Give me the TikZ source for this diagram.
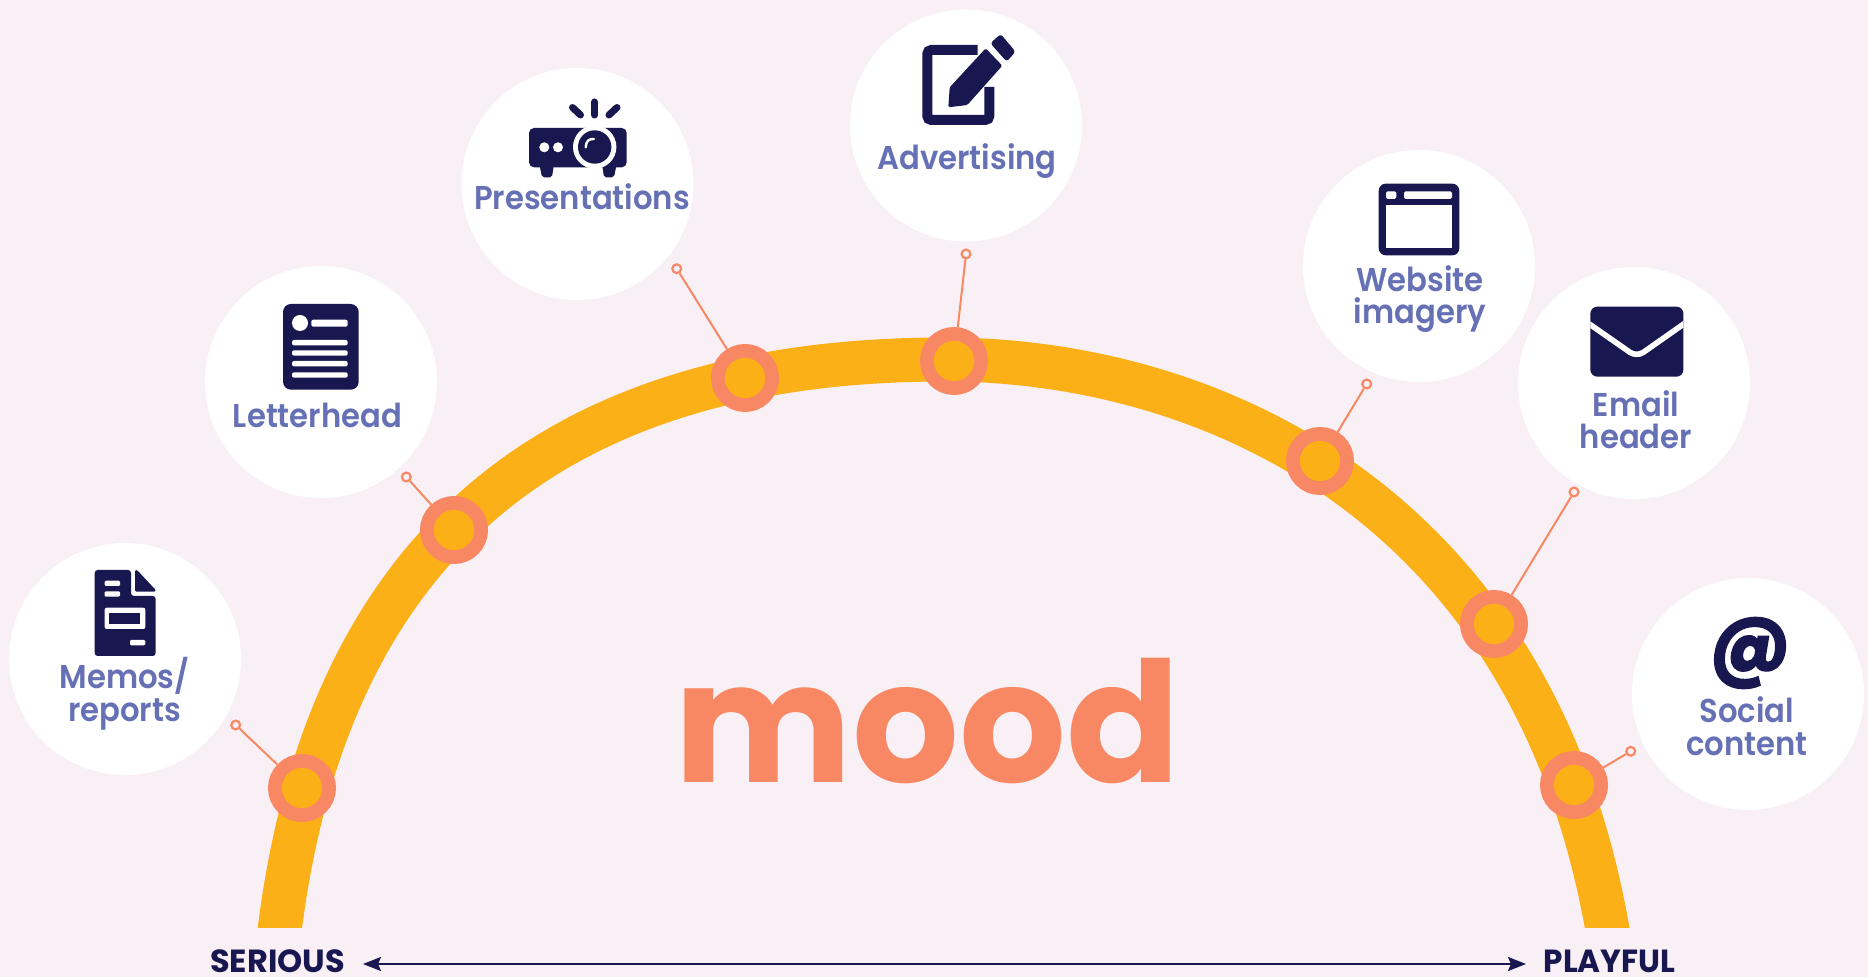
\documentclass[tikz,border=0pt]{standalone}
\usepackage{fontspec}
\usetikzlibrary{arrows.meta}
\newfontfamily\moodfont{Poppins Bold}
\newfontfamily\labfont[FakeStretch=0.93]{Poppins SemiBold}
\newfontfamily\endfont{Poppins Bold}
\newfontfamily\playfont[FakeStretch=0.97]{Poppins Bold}
\newfontfamily\atfont[FakeBold=1.5,FakeStretch=0.95]{Poppins Bold}
\definecolor{bgc}{HTML}{F9F0F5}
\definecolor{arcc}{HTML}{FBB018}
\definecolor{coral}{HTML}{F88863}
\definecolor{navy}{HTML}{191750}
\definecolor{labc}{HTML}{6670B5}
\tikzset{
  bubble/.style={circle,fill=white,minimum size=116pt,inner sep=0pt},
  ring/.style={circle,draw=coral,line width=6.85pt,fill=arcc,minimum size=27.15pt,inner sep=0pt},
  tipdot/.style={circle,draw=coral,line width=1.1pt,fill=bgc,minimum size=4.4pt,inner sep=0pt},
  lolly/.style={draw=coral,line width=1pt},
  lab/.style={font=\labfont\fontsize{16.5}{16.2}\selectfont,text=labc,align=center,inner sep=0pt,anchor=base},
  endlab/.style={font=\endfont\fontsize{16}{16}\selectfont,text=navy,inner sep=0pt,anchor=base},
  ico/.style={fill=navy,draw=none},
  wht/.style={fill=white,draw=none},
}
\begin{document}
\begin{tikzpicture}[x=.5pt,y=-.5pt]
\useasboundingbox (0,0) rectangle (1868,977);
\fill[bgc] (0,0) rectangle (1868,977);
% bubbles
\node[bubble] (b1) at (125,659) {};
\node[bubble] (b2) at (321,382) {};
\node[bubble] (b3) at (577.5,184) {};
\node[bubble] (b4) at (966,125.5) {};
\node[bubble] (b5) at (1419,266) {};
\node[bubble] (b6) at (1634,383) {};
\node[bubble] (b7) at (1748,694) {};
% arc
\begin{scope}
\clip (200,300) rectangle (1700,927);
\draw[arcc,line width=22pt] (276,960) -- (280,927) .. controls (340,457) and (660,359.5) .. (945,359.5) .. controls (1200,359.5) and (1530,495) .. (1607,927) -- (1613,960);
\end{scope}
% rings
\node[ring] (r1) at (302,788) {};
\node[ring] (r2) at (454,530) {};
\node[ring] (r3) at (745,378) {};
\node[ring] (r4) at (954,361) {};
\node[ring] (r5) at (1320,461) {};
\node[ring] (r6) at (1494,624) {};
\node[ring] (r7) at (1574,785) {};
\node[tipdot] (d1) at (235.7,725) {};
\node[tipdot] (d2) at (406.3,477) {};
\node[tipdot] (d3) at (676.7,268.7) {};
\node[tipdot] (d4) at (966,254) {};
\node[tipdot] (d5) at (1366.7,384) {};
\node[tipdot] (d6) at (1574,492) {};
\node[tipdot] (d7) at (1630.7,751.3) {};
\foreach \i in {1,...,7} \draw[lolly] (r\i) -- (d\i);
% mood
\node[font=\moodfont\fontsize{84}{84}\selectfont,text=coral,inner sep=0pt,anchor=base] (mood) at (927.5,783) {mood};
% labels
\node[lab] (t1) at (124.5,721) {Memos/\\reports};
\node[lab] (t2) at (317.5,427.5) {Letterhead};
\node[lab] (t3) at (582,210) {Presentations};
\node[lab] (t4) at (967,170) {Advertising};
\node[lab] (t5) at (1420,324) {Website\\imagery};
\node[lab] (t6) at (1636,449) {Email\\header};
\node[lab] (t7) at (1746.7,755) {Social\\content};
% bottom axis
\node[endlab] (serious) at (277.5,972) {SERIOUS};
\node[endlab,font=\playfont\fontsize{16}{16}\selectfont] (playful) at (1609.5,972) {PLAYFUL};
\coordinate (al) at (363,964);
\coordinate (ar) at (1526,964);
\draw[navy,line width=1.1pt,{Stealth[length=9pt,width=7pt,inset=1.5pt]}-{Stealth[length=9pt,width=7pt,inset=1.5pt]}] (al) -- (ar);
% memo icon
\fill[ico,rounded corners=1.5pt] (94.7,570) -- (131,570) -- (131,596) -- (155.7,596) -- (155.7,656) -- (94.7,656) -- cycle;
\fill[ico,rounded corners=.7pt] (135,570) -- (137,570) -- (155.7,590) -- (155.7,591.7) -- (135,591.7) -- cycle;
\fill[wht,rounded corners=.6pt] (104.7,580.7) rectangle (120,586);
\fill[wht,rounded corners=.6pt] (104.7,591.3) rectangle (120,596.7);
\fill[wht,rounded corners=1pt] (104.7,607.7) rectangle (145.3,629);
\fill[ico] (109.3,612.7) rectangle (140.3,624);
\fill[wht,rounded corners=.6pt] (130,640) rectangle (145.3,645.3);
% letterhead icon
\fill[ico,rounded corners=4pt] (283,304) rectangle (358.7,389.7);
\fill[wht] (300,323) circle (8);
\fill[wht,rounded corners=1pt] (311.3,319.7) rectangle (347.7,326.7);
\foreach \yy in {342.7,353,363.7,375} \fill[wht,rounded corners=1pt] (292,\yy-2.7) rectangle (347.7,\yy+2.7);
% projector icon
\fill[ico,rounded corners=2.5pt] (529,128) rectangle (626.7,167.3);
\fill[ico,rounded corners=1pt] (539.5,165) -- (553.8,165) -- (552,177.3) -- (542,177.3) -- cycle;
\fill[ico,rounded corners=1pt] (602.2,165) -- (616.5,165) -- (614,177.3) -- (604,177.3) -- cycle;
\fill[wht] (594.7,147) circle (21.7);
\fill[ico] (594.7,147) circle (16.7);
\draw[white,line width=1.2pt,line cap=round] (585.7,147.3) .. controls (586,141) and (589,138.5) .. (594,139);
\fill[wht] (544.3,147.3) circle (5);
\fill[wht] (558,147.3) circle (5);
\draw[navy,line width=3.5pt,line cap=round] (594.7,102) -- (594.7,115);
\draw[navy,line width=3.5pt,line cap=round] (572.5,107.5) -- (580.5,115);
\draw[navy,line width=3.5pt,line cap=round] (617,107.5) -- (609,115);
% advertising icon
\draw[navy,line width=5pt,rounded corners=2pt] (977.5,50) -- (927.3,50) -- (927.3,120) -- (989.3,120) -- (989.3,87);
\fill[ico,rounded corners=.7pt] (985.7,48.3) -- (1002.3,65.7) -- (967.3,105) -- (948.3,107.3) -- (949.7,87.3) -- cycle;
\fill[ico,rounded corners=1.5pt] (1000.7,34) -- (1015.5,51.7) -- (1006.7,61.7) -- (990.3,43.3) -- cycle;
% website icon
\fill[ico,rounded corners=3.5pt] (1378.7,183.7) rectangle (1459.3,255.3);
\fill[wht,rounded corners=.8pt] (1386,191.3) rectangle (1396.3,199);
\fill[wht,rounded corners=.8pt] (1404,191.3) rectangle (1452,199);
\fill[wht] (1386,205.3) rectangle (1452,247.7);
% email icon
\fill[ico,rounded corners=3.5pt] (1590.3,306.7) rectangle (1683.4,376.7);
\begin{scope}
\clip (1590.3,306.7) rectangle (1683.4,376.7);
\draw[white,line width=2.8pt,rounded corners=4pt] (1585,321) -- (1636.7,357) -- (1688,321);
\end{scope}
% at icon
\node[font=\atfont\fontsize{40}{40}\selectfont,text=navy,inner sep=0pt] (at) at (1750,653) {@};
\end{tikzpicture}
\end{document}
